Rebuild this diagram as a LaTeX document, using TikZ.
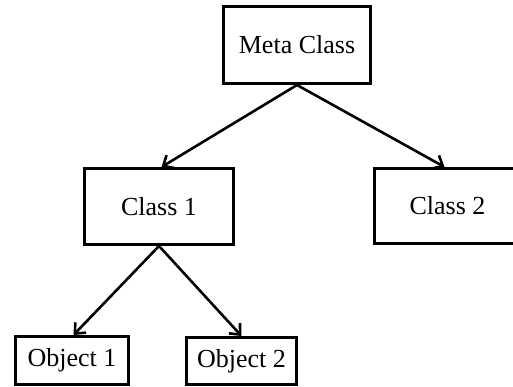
\documentclass[tikz,border=0pt]{standalone}
\usepackage{fontspec}
\setmainfont{Liberation Serif}
\usetikzlibrary{arrows.meta}
\begin{document}
\begin{tikzpicture}[x=1pt,y=-1pt,
  box/.style={draw=black,line width=3pt,fill=white,inner sep=0pt,
    font=\fontsize{26}{29}\selectfont,anchor=north west},
  link/.style={line width=2.6pt,-{Straight Barb[length=8.5pt,width=15pt,line width=2.6pt]}}]
  \useasboundingbox (0,0) rectangle (513,386);
  \begin{scope}
    \clip (0,0) rectangle (513,386);
    \node[box,minimum width=147pt,minimum height=77pt] (meta) at (222,5) {Meta Class};
    \node[box,minimum width=149pt,minimum height=76pt] (c1) at (83,167) {Class 1};
    \node[box,minimum width=146pt,minimum height=75pt] (c2) at (373,167) {Class 2};
    \node[box,minimum width=113pt,minimum height=48pt] (o1) at (14,335) {Object 1};
    \node[box,minimum width=110pt,minimum height=47pt] (o2) at (185,336) {Object 2};
    \draw[link] (meta.south) -- ([xshift=2.5pt]c1.north);
    \draw[link] (meta.south) -- ([xshift=-3pt]c2.north);
    \draw[link] (c1.south) -- ([xshift=1.5pt]o1.north);
    \draw[link] (c1.south) -- (o2.north);
  \end{scope}
\end{tikzpicture}
\end{document}
